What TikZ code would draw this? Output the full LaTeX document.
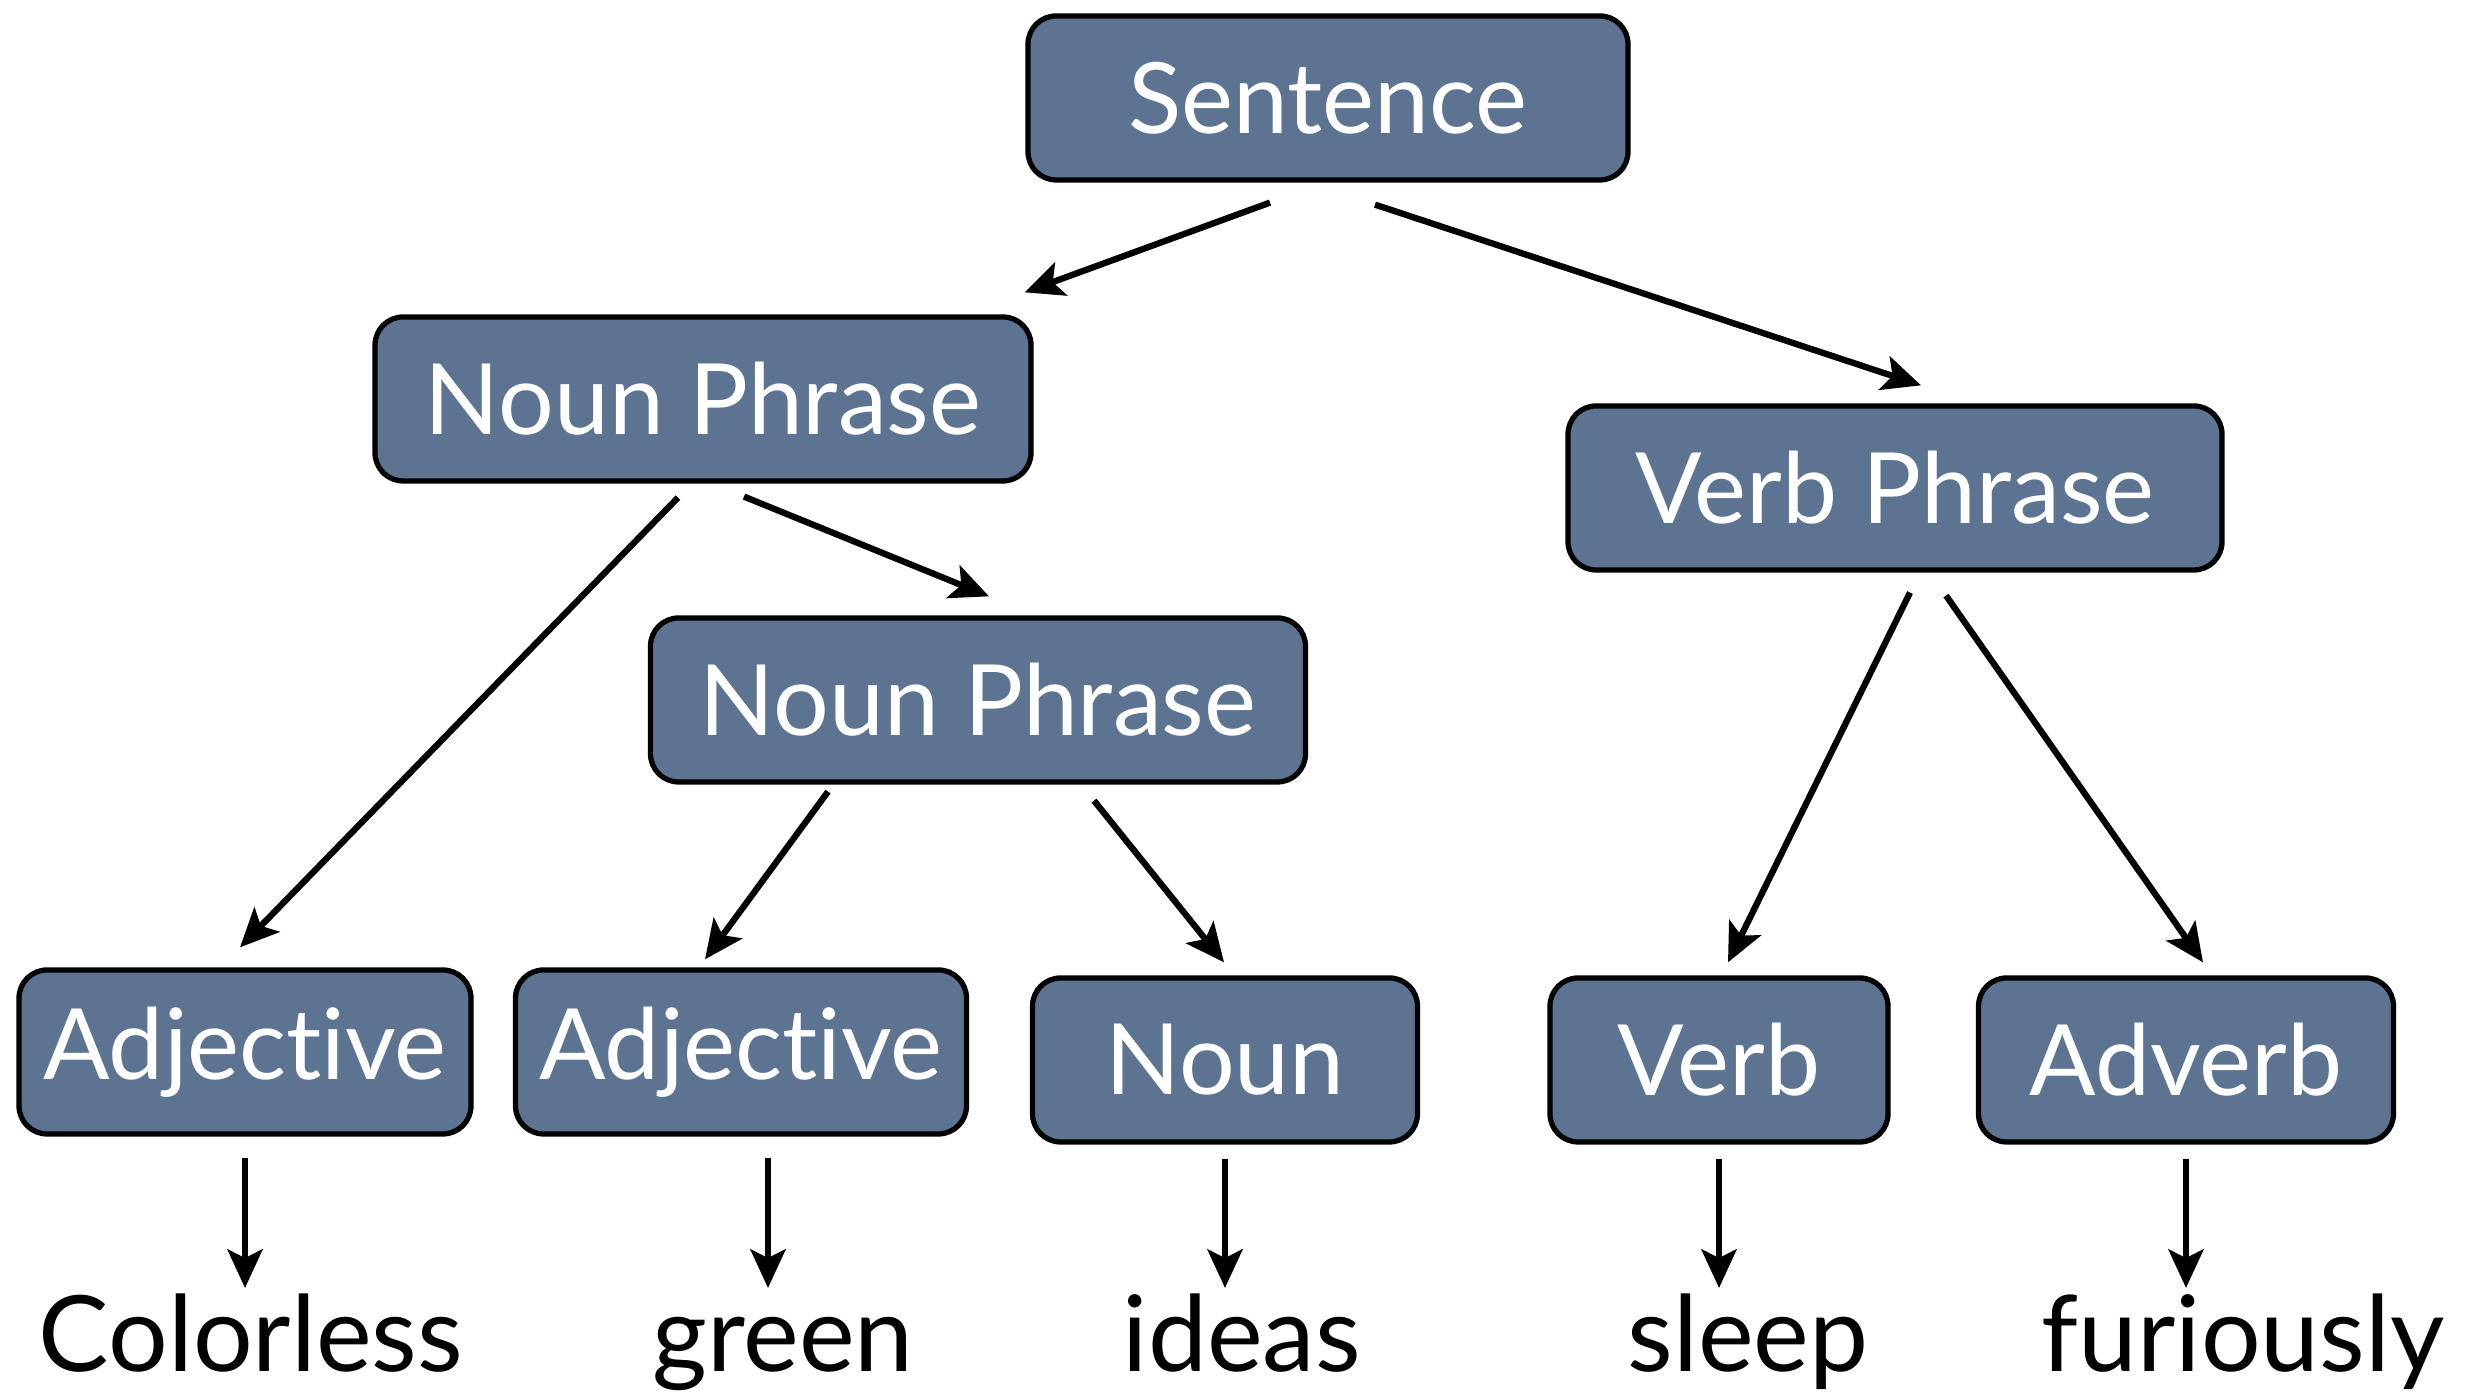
\documentclass[tikz,border=0pt]{standalone}
\usepackage{fontspec}
\setmainfont[Ligatures={NoCommon,NoRare}]{Lato}
\usepackage{tikz}
\usetikzlibrary{calc, arrows.meta}

\definecolor{boxblue}{RGB}{92,116,146}

\tikzset{
	synbox/.style={draw=black,line width=1.5pt,fill=boxblue,rounded corners=8pt,
		text=white,inner sep=0pt,minimum height=1.64cm,
		font=\fontsize{28}{34}\selectfont},
	word/.style={anchor=base,inner sep=0pt,font=\fontsize{30}{36}\selectfont},
	arr/.style={-{Stealth[length=11pt,width=10pt,inset=2.5pt]},line width=1.8pt}
}

\begin{document}
\begin{tikzpicture}
	\useasboundingbox (0,0) rectangle (24.73,13.98);
	
	%boxes
	\node[synbox,minimum width=6.00cm] (sent)   at (13.28,13.00) {Sentence};
	\node[synbox,minimum width=6.56cm] (np1)    at (7.03,9.99)   {Noun Phrase};
	\node[synbox,minimum width=6.54cm] (vp)     at (18.95,9.10)  {Verb Phrase};
	\node[synbox,minimum width=6.55cm] (np2)    at (9.78,6.98)   {Noun Phrase};
	\node[synbox,minimum width=4.52cm] (adj1)   at (2.45,3.46)   {Adjective};
	\node[synbox,minimum width=4.51cm] (adj2)   at (7.41,3.46)   {Adjective};
	\node[synbox,minimum width=3.85cm] (noun)   at (12.25,3.38)  {Noun};
	\node[synbox,minimum width=3.38cm] (verb)   at (17.19,3.38)  {Verb};
	\node[synbox,minimum width=4.15cm] (adverb) at (21.86,3.38)  {Adverb};
	
	%words
	\node[word] (colorless) at (2.51,0.26)  {Colorless};
	\node[word] (green)     at (7.83,0.26)  {green};
	\node[word] (ideas)     at (12.42,0.26) {ideas};
	\node[word] (sleep)     at (17.48,0.26) {sleep};
	\node[word] (furiously) at (22.43,0.26) {furiously};
	
	%tree arrows
	\draw[arr] ($(sent.south)+(-0.58,-0.20)$) -- ($(np1.north east)+(-0.09,0.22)$);
	\draw[arr] ($(sent.south)+(0.47,-0.22)$)  -- ($(vp.north)+(0.26,0.18)$);
	\draw[arr] ($(np1.south)+(-0.25,-0.14)$)  -- ($(adj1.north)+(-0.05,0.20)$);
	\draw[arr] ($(np1.south)+(0.41,-0.13)$)   -- ($(np2.north)+(0.11,0.19)$);
	\draw[arr] ($(np2.south)+(-1.50,-0.07)$)  -- ($(adj2.north)+(-0.36,0.08)$);
	\draw[arr] ($(np2.south)+(1.16,-0.16)$)   -- ($(noun.north)+(-0.01,0.13)$);
	\draw[arr] ($(vp.south)+(0.15,-0.20)$)    -- ($(verb.north)+(0.09,0.13)$);
	\draw[arr] ($(vp.south)+(0.51,-0.23)$)    -- ($(adverb.north)+(0.17,0.13)$);
	
	%word arrows
	\draw[arr] ($(adj1.south)+(0,-0.21)$)   -- (adj1.south |- 0,1.10);
	\draw[arr] ($(adj2.south)+(0.27,-0.21)$) -- ($(adj2.south |- 0,1.10)+(0.27,0)$);
	\draw[arr] ($(noun.south)+(0,-0.14)$)   -- (noun.south |- 0,1.10);
	\draw[arr] ($(verb.south)+(0,-0.14)$)   -- (verb.south |- 0,1.10);
	\draw[arr] ($(adverb.south)+(0,-0.14)$) -- (adverb.south |- 0,1.10);
\end{tikzpicture}
\end{document}
